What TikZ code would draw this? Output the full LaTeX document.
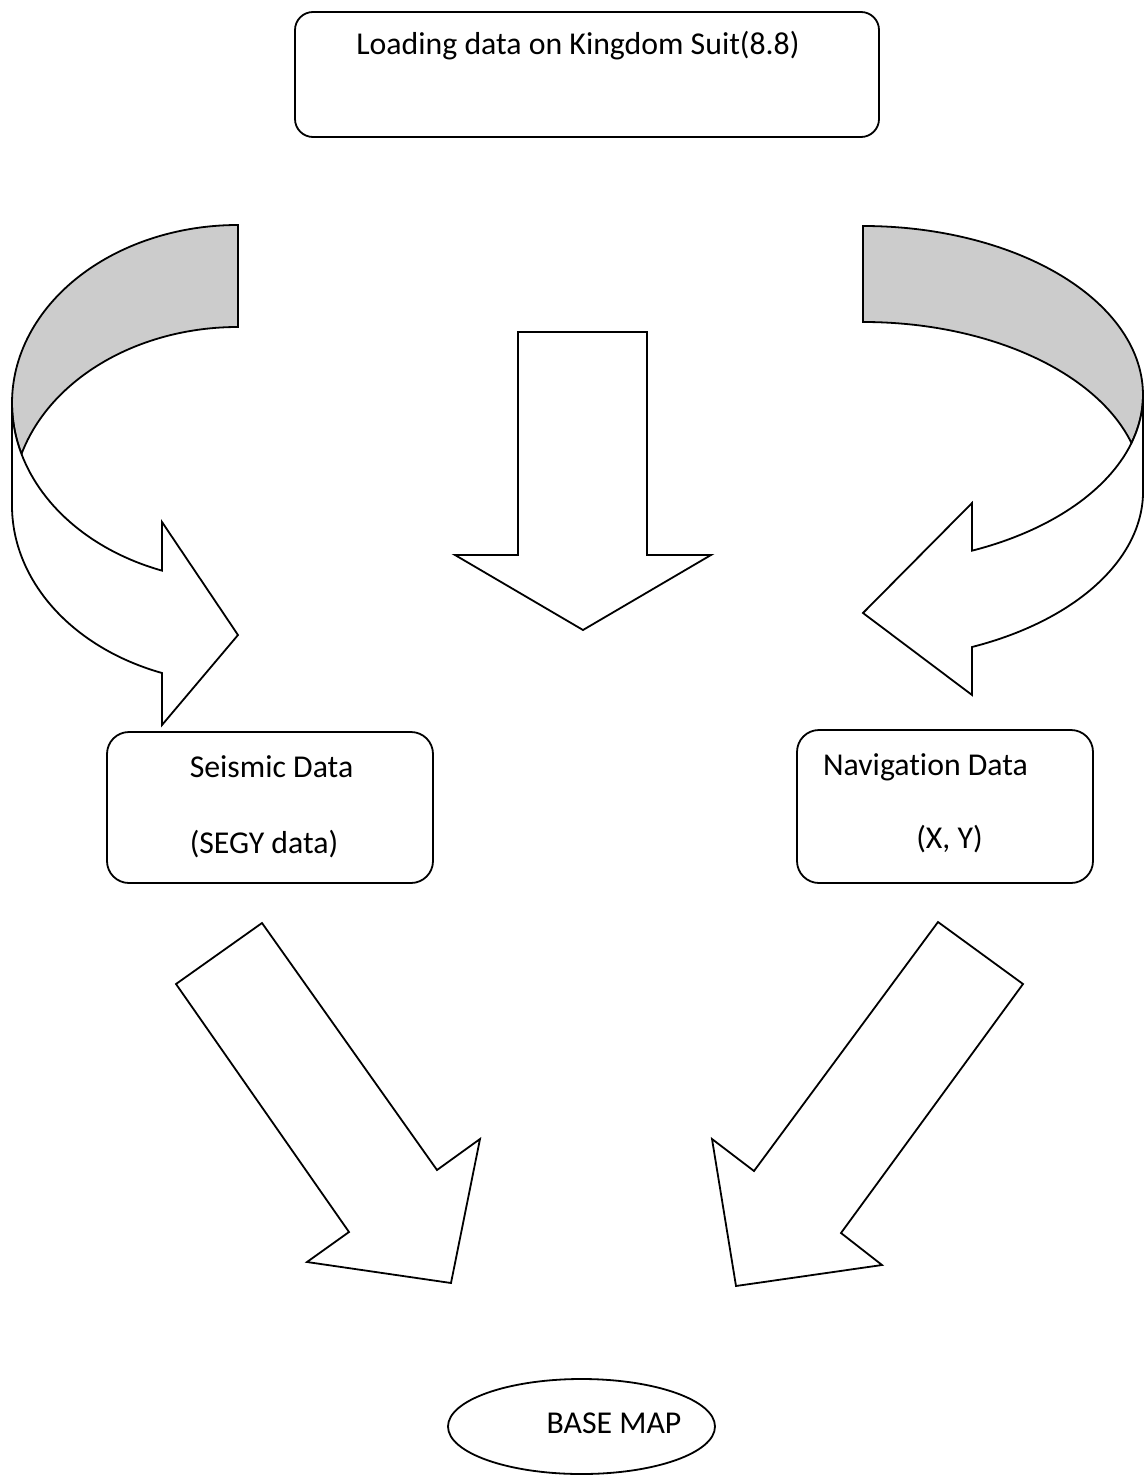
\documentclass[tikz,border=0pt]{standalone}
\usepackage{fontspec}
\setmainfont{Carlito}[Ligatures=CommonOff]
\usetikzlibrary{fit}
\definecolor{bandgray}{RGB}{204,204,204}
\tikzset{
  shp/.style={draw=black, line width=0.9pt, line join=miter},
  boxr/.style={draw=black, line width=0.9pt, rounded corners=9pt, inner sep=0pt},
  lbl/.style={font=\fontsize{15.9}{19}\selectfont, inner sep=0pt, anchor=base},
  er/.style={x radius=226, y radius=178},
  ear/.style={x radius=280, y radius=169}
}
\begin{document}
\begin{tikzpicture}[x=0.5pt, y=-0.5pt]
\useasboundingbox (0,0) rectangle (1145,1477);
% top box
\node[boxr, fit={(295,12) (879,137)}] (topbox) {};
\node[lbl] (toptext) at (578,55) {Loading data on Kingdom Suit(8.8)};
% left curved arrow
\filldraw[shp, fill=bandgray] (238,225) arc[start angle=270, end angle=163.35, er]
  arc[start angle=196.65, end angle=270, er] -- cycle;
\filldraw[shp, fill=white] (21.5,454) arc[start angle=163.35, end angle=109.65, er]
  -- (162,522) -- (238,635) -- (162,725) -- (162,673)
  arc[start angle=109.65, end angle=180, er] -- (12,403)
  arc[start angle=180, end angle=163.35, er] -- cycle;
% right curved arrow
\filldraw[shp, fill=bandgray] (863,226) arc[start angle=-90, end angle=16.5, ear]
  arc[start angle=-16.5, end angle=-90, ear] -- cycle;
\filldraw[shp, fill=white] (1131.5,443) arc[start angle=16.5, end angle=67.1, ear]
  -- (972,503) -- (863,613) -- (972,695) -- (972,647)
  arc[start angle=67.1, end angle=0, ear] -- (1143,395)
  arc[start angle=0, end angle=16.5, ear] -- cycle;
% middle down arrow
\draw[shp] (518,332) -- (647,332) -- (647,555) -- (711,555) -- (583,630)
  -- (455,555) -- (518,555) -- cycle;
% seismic box
\node[boxr, rounded corners=11pt, fit={(107,732) (433,883)}] (seis) {};
\node[lbl] (seist1) at (271.5,777) {Seismic Data};
\node[lbl] (seist2) at (264,853) {(SEGY data)};
% navigation box
\node[boxr, rounded corners=11pt, fit={(797,730) (1093,883)}] (nav) {};
\node[lbl] (navt1) at (925.5,775) {Navigation Data};
\node[lbl] (navt2) at (949.5,848) {(X, Y)};
% diagonal arrows
\draw[shp] (262,923) -- (176,984) -- (349,1232) -- (307,1262) -- (451,1283)
  -- (480,1139) -- (437,1170) -- cycle;
\draw[shp] (938,922) -- (1023,984) -- (841,1233) -- (882,1265) -- (736,1286)
  -- (712,1139) -- (754,1171) -- cycle;
% base map
\draw[shp] (581.5,1426.5) ellipse [x radius=133.5, y radius=47.5];
\node[lbl] (basemap) at (614,1433) {BASE MAP};
\end{tikzpicture}
\end{document}
